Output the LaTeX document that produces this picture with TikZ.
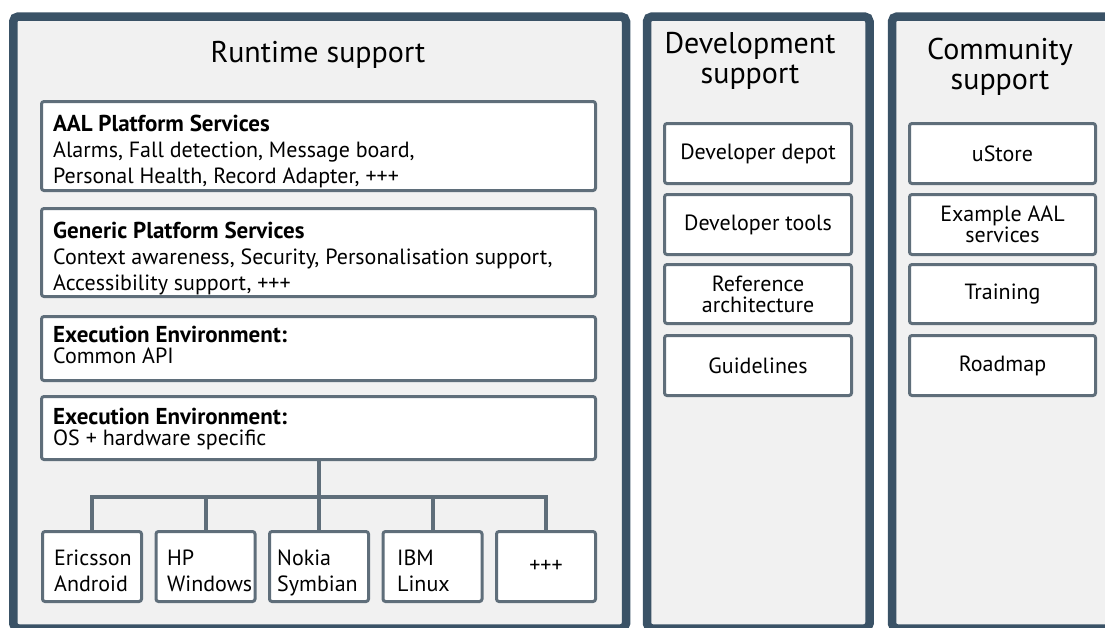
\documentclass[tikz,border=0pt]{standalone}
\usepackage{fontspec}
\setmainfont{PT Sans}
\definecolor{panelborder}{RGB}{58,82,102}
\definecolor{panelfill}{RGB}{241,241,241}
\definecolor{boxborder}{RGB}{95,110,122}
\newcommand{\bhead}[1]{{\fontsize{23}{26}\selectfont\bfseries #1}}
\tikzset{
  panel/.style={draw=panelborder, fill=panelfill, line width=8.5pt, rounded corners=5pt, inner sep=0pt, outer sep=0pt, anchor=north west},
  ibox/.style={draw=boxborder, fill=white, line width=3pt, rounded corners=2.5pt, inner sep=0pt, outer sep=0pt, anchor=north west},
  title/.style={font=\fontsize{30}{30}\selectfont, align=center, inner sep=0pt},
  btxt/.style={font=\fontsize{22}{26}\selectfont, align=left, inner sep=0pt, anchor=base west},
  etxt/.style={font=\fontsize{22}{20.5}\selectfont, align=left, inner sep=0pt, anchor=base west},
  ctxt/.style={font=\fontsize{22}{21}\selectfont, align=center, inner sep=0pt},
  tree/.style={draw=boxborder, line width=4pt}
}
\begin{document}
\begin{tikzpicture}[x=1pt,y=-1pt]
\useasboundingbox (0,0) rectangle (1105,627);
\begin{scope}
\clip (0,0) rectangle (1105,627);
\node[panel, minimum width=612.75pt, minimum height=612pt] (rt) at (13.25,16.5) {};
\node[panel, minimum width=222.5pt, minimum height=612pt] (dev) at (647,16.5) {};
\node[panel, minimum width=230pt, minimum height=612pt] (com) at (892,16.5) {};
\end{scope}

% titles
\node[title] (rt-t) at (318,55) {Runtime support};
\node[title] (dev-t) at (750,61) {Development\\support};
\node[title] (com-t) at (1000,67) {Community\\support};

% runtime boxes
\node[ibox, minimum width=554pt, minimum height=89pt] (aal) at (41.5,101.5) {};
\node[ibox, minimum width=554pt, minimum height=88pt] (gen) at (41.5,208.5) {};
\node[ibox, minimum width=554pt, minimum height=64pt] (ex1) at (41.5,316.5) {};
\node[ibox, minimum width=554pt, minimum height=63pt] (ex2) at (41.5,396.5) {};

\node[btxt] (aal-t) at (53,183) {\bhead{AAL Platform Services}\\Alarms, Fall detection, Message board,\\Personal Health, Record Adapter, +++};
\node[btxt] (gen-t) at (53,290) {\bhead{Generic Platform Services}\\Context awareness, Security, Personalisation support,\\Accessibility support, +++};
\node[etxt] (ex1-t) at (53,363) {\bhead{Execution Environment:}\\Common API};
\node[etxt] (ex2-t) at (53,445) {\bhead{Execution Environment:}\\OS + hardware specific};

% platform boxes
\node[ibox, minimum width=99pt, minimum height=70pt] (b1) at (42.5,531.5) {};
\node[ibox, minimum width=99pt, minimum height=70pt] (b2) at (156,531.5) {};
\node[ibox, minimum width=99pt, minimum height=70pt] (b3) at (269.5,531.5) {};
\node[ibox, minimum width=99pt, minimum height=70pt] (b4) at (383,531.5) {};
\node[ibox, minimum width=99pt, minimum height=70pt] (b5) at (496.5,531.5) {};

\node[btxt] (b1-t) at (54,591) {Ericsson\\Android};
\node[btxt] (b2-t) at (167,591) {HP\\Windows};
\node[btxt] (b3-t) at (277,591) {Nokia\\Symbian};
\node[btxt] (b4-t) at (397,591) {IBM\\Linux};
\node[ctxt] (b5-t) at (b5.center) {+++};

% tree
\coordinate (bus) at (0,497);
\draw[tree] (ex2.south) -- (ex2.south |- bus);
\draw[tree, line cap=rect] (b1.north |- bus) -- (b5.north |- bus);
\foreach \b in {b1,b2,b3,b4,b5} {\draw[tree] (\b.north |- bus) -- (\b.north);}

% development boxes
\node[ibox, minimum width=187pt, minimum height=60pt] (d1) at (664.5,123.5) {};
\node[ibox, minimum width=187pt, minimum height=60pt] (d2) at (664.5,194.5) {};
\node[ibox, minimum width=187pt, minimum height=59pt] (d3) at (664.5,264.5) {};
\node[ibox, minimum width=187pt, minimum height=60pt] (d4) at (664.5,335.5) {};
\node[ctxt] at (d1.center) (d1-t) {Developer depot};
\node[ctxt] at (d2.center) (d2-t) {Developer tools};
\node[ctxt] at (d3.center) (d3-t) {Reference\\architecture};
\node[ctxt] at (d4.center) (d4-t) {Guidelines};

% community boxes
\node[ibox, minimum width=186pt, minimum height=60pt] (c1) at (909.5,123.5) {};
\node[ibox, minimum width=186pt, minimum height=60pt] (c2) at (909.5,194.5) {};
\node[ibox, minimum width=186pt, minimum height=59pt] (c3) at (909.5,264.5) {};
\node[ibox, minimum width=186pt, minimum height=60pt] (c4) at (909.5,335.5) {};
\node[ctxt] at (c1.center) (c1-t) {uStore};
\node[ctxt] at (c2.center) (c2-t) {Example AAL\\services};
\node[ctxt] at (c3.center) (c3-t) {Training};
\node[ctxt] at (c4.center) (c4-t) {Roadmap};
\end{tikzpicture}
\end{document}
